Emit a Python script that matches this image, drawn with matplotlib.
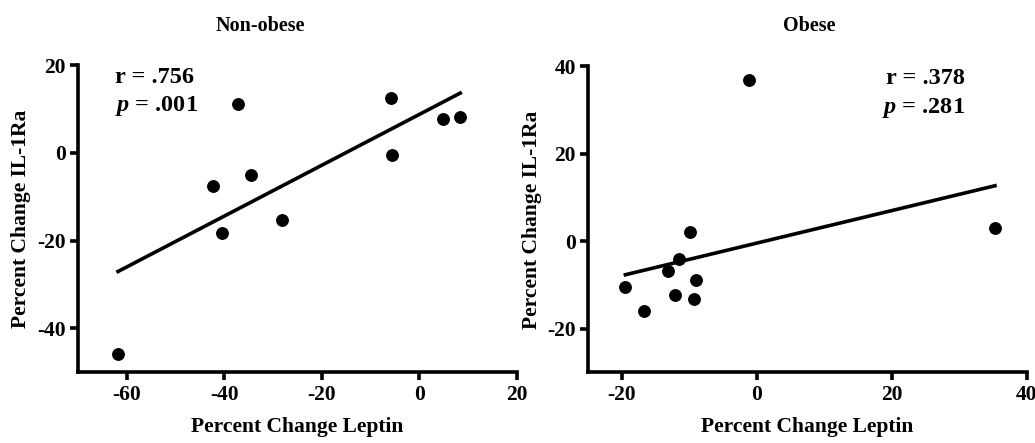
import numpy as np
import matplotlib
matplotlib.use('Agg')
import matplotlib.pyplot as plt

# Non-obese group
nonobese_leptin = [-61.8, -42.3, -40.5, -37.2, -34.6, -28.2, -5.9, -5.6, 4.9, 8.4]
nonobese_il1ra = [-45.9, -7.5, -18.2, 11.1, -5.1, -15.2, 12.4, -0.5, 7.8, 8.1]

# Obese group
obese_leptin = [-19.5, -16.8, -13.2, -12.1, -11.5, -9.9, -9.4, -9.0, -1.1, 35.3]
obese_il1ra = [-10.4, -15.9, -6.9, -12.2, -4.1, 2.2, -13.2, -8.8, 37.0, 3.1]

titles = ['Non-obese', 'Obese']
stats = [('r = .756', '$p$ = .001'), ('r = .378', '$p$ = .281')]

plt.rcParams['font.family'] = ['Liberation Serif', 'DejaVu Serif']
plt.rcParams['font.weight'] = 'bold'
plt.rcParams['axes.unicode_minus'] = False
plt.rcParams['mathtext.fontset'] = 'custom'
plt.rcParams['mathtext.it'] = 'Liberation Serif:italic:bold'
plt.rcParams['mathtext.rm'] = 'Liberation Serif:bold'

fig = plt.figure(figsize=(10.35, 4.43), dpi=100)
ax1 = fig.add_axes([0.0754, 0.1596, 0.4239, 0.6934])
ax2 = fig.add_axes([0.5684, 0.1596, 0.4236, 0.6904])


def draw(ax, x, y, st, xlim, ylim, xticks, yticks, text_x, ha):
    x = np.array(x)
    y = np.array(y)
    ax.scatter(x, y, s=68, color='black', zorder=3, clip_on=False)
    m, b = np.polyfit(x, y, 1)
    xs = np.array([x.min(), x.max()])
    ax.plot(xs, m * xs + b, color='black', linewidth=2.6)
    ax.set_xlim(*xlim)
    ax.set_ylim(*ylim)
    ax.set_xticks(xticks)
    ax.set_yticks(yticks)
    for s in ['top', 'right']:
        ax.spines[s].set_visible(False)
    for s in ['left', 'bottom']:
        ax.spines[s].set_linewidth(2.6)
    ax.tick_params(width=2.6, length=6, labelsize=15.5, pad=3)
    for lab in ax.get_xticklabels() + ax.get_yticklabels():
        lab.set_fontweight('bold')
    ax.set_xlabel('Percent Change Leptin', fontsize=15.5, fontweight='bold', labelpad=9)
    ax.set_ylabel('Percent Change IL-1Ra', fontsize=15.5, fontweight='bold', labelpad=4)
    ax.text(text_x, 0.995, st[0], transform=ax.transAxes, fontsize=17.5,
            fontweight='bold', ha=ha, va='top')
    ax.text(text_x, 0.905, st[1], transform=ax.transAxes, fontsize=17.5,
            fontweight='bold', ha=ha, va='top')


draw(ax1, nonobese_leptin, nonobese_il1ra, stats[0],
     (-70, 20), (-50, 20), [-60, -40, -20, 0, 20], [-40, -20, 0, 20], 0.085, 'left')
draw(ax2, obese_leptin, obese_il1ra, stats[1],
     (-25, 40), (-30, 40), [-20, 0, 20, 40], [-20, 0, 20, 40], 0.86, 'right')

fig.text(260 / 1035, 1 - 26 / 443, titles[0], fontsize=14.5, fontweight='bold',
         ha='center', va='center')
fig.text(809 / 1035, 1 - 26 / 443, titles[1], fontsize=14.5, fontweight='bold',
         ha='center', va='center')

fig.savefig('out.png', dpi=100)
